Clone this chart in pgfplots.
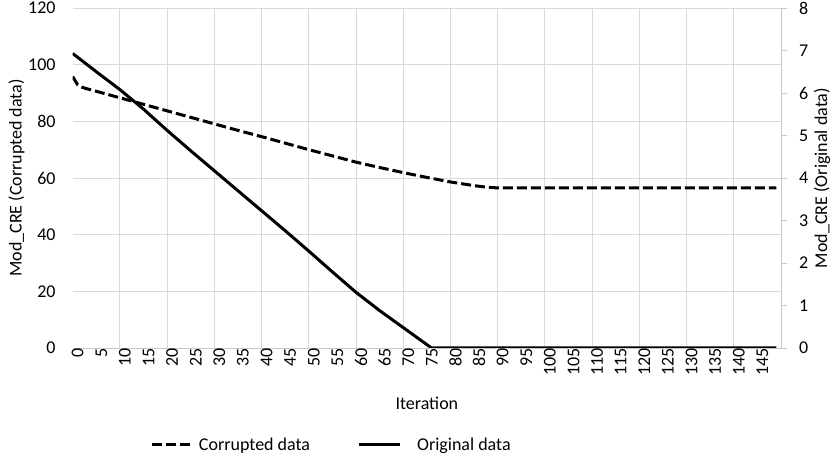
\documentclass[border=0pt]{standalone}
\usepackage{pgfplots}
\pgfplotsset{compat=1.18}
\usepackage{fontspec}
\setmainfont{Carlito}
\definecolor{gridc}{RGB}{217,217,217}
\definecolor{axc}{RGB}{200,200,200}
\newcommand{\fs}{\fontsize{18}{21}\selectfont}
\begin{document}
\begin{tikzpicture}
\useasboundingbox (-72.7pt,-117pt) rectangle (760.3pt,348pt);
\pgfplotsset{
  base/.style={
    scale only axis, width=708.3pt, height=340pt,
    at={(0pt,0pt)}, anchor=south west,
    xmin=0, xmax=150,
    /pgf/number format/assume math mode=true,
    tick label style={font=\fs},
    legend style={font=\fs},
  },
  mydash/.style={black, line width=3pt, dash pattern=on 10pt off 4pt},
  mysolid/.style={black, line width=3pt},
}
\begin{axis}[base,
  ymin=0, ymax=120, ytick={0,20,...,120},
  axis y line*=left, axis x line*=bottom,
  y axis line style={draw=none},
  x axis line style={draw=axc, line width=0.9pt, -},
  xtick={0,5,...,145},
  minor xtick={10,20,...,150},
  xminorgrids=true, ymajorgrids=true,
  grid style={gridc, line width=0.9pt},
  minor grid style={gridc, line width=0.9pt},
  major tick length=0pt, minor tick length=0pt,
  xticklabel style={rotate=90, anchor=east, inner sep=0pt, yshift=-5pt},
  yticklabel style={anchor=east, inner sep=0pt, xshift=-17pt},
  every axis y label/.style={at={(axis description cs:0,0.5)}, xshift=-56.2pt, rotate=90, anchor=center, font=\fs},
  every axis x label/.style={at={(axis description cs:0.5,0)}, yshift=-55pt, anchor=center, font=\fs},
  ylabel={Mod\_CRE (Corrupted data)},
  xlabel={Iteration},
]
\addplot[mydash] coordinates {
(0,95.8) (1,93.0) (2,92.0) (3,91.5) (5,90.6) (10,88.3) (15,86.0) (20,83.7)
(25,81.4) (30,79.1) (35,76.8) (40,74.6) (45,72.3) (50,70.0) (55,67.8)
(60,65.6) (65,63.7) (70,61.9) (75,60.2) (80,58.6) (85,57.3) (88,56.7)
(90,56.5) (149,56.5)
};
\end{axis}
\begin{axis}[base,
  ymin=0, ymax=8, ytick={0,1,...,8},
  axis y line*=right, axis x line=none,
  y axis line style={draw=axc, line width=0.9pt, -},
  ytick style={draw=axc, line width=0.9pt},
  tick align=outside, major tick length=6pt,
  yticklabel style={anchor=west, inner sep=0pt, xshift=12pt},
  every axis y label/.style={at={(axis description cs:1,0.5)}, xshift=41pt, rotate=90, anchor=center, font=\fs},
  ylabel={Mod\_CRE (Original data)},
  legend style={at={(axis description cs:0.1105,0)}, yshift=-97pt, anchor=west,
    draw=none, fill=none, inner sep=0pt, outer sep=0pt, legend columns=2,
    /tikz/column 1/.style={column sep=2pt},
    /tikz/column 2/.style={column sep=45pt},
    /tikz/column 3/.style={column sep=14pt}},
  legend image code/.code={\draw[#1] (0pt,0pt) -- (41pt,0pt);},
]
\addlegendimage{mydash}
\addlegendentry{Corrupted data}
\addplot[mysolid] coordinates {
(0,6.93) (5,6.50) (10,6.08) (15,5.62) (20,5.12) (25,4.64) (30,4.17) (35,3.70)
(40,3.23) (45,2.76) (50,2.28) (55,1.79) (60,1.31) (65,0.88) (70,0.48)
(73,0.24) (75,0.08) (76,0.0) (149,0)
};
\addlegendentry{Original data}
\end{axis}
\end{tikzpicture}
\end{document}
